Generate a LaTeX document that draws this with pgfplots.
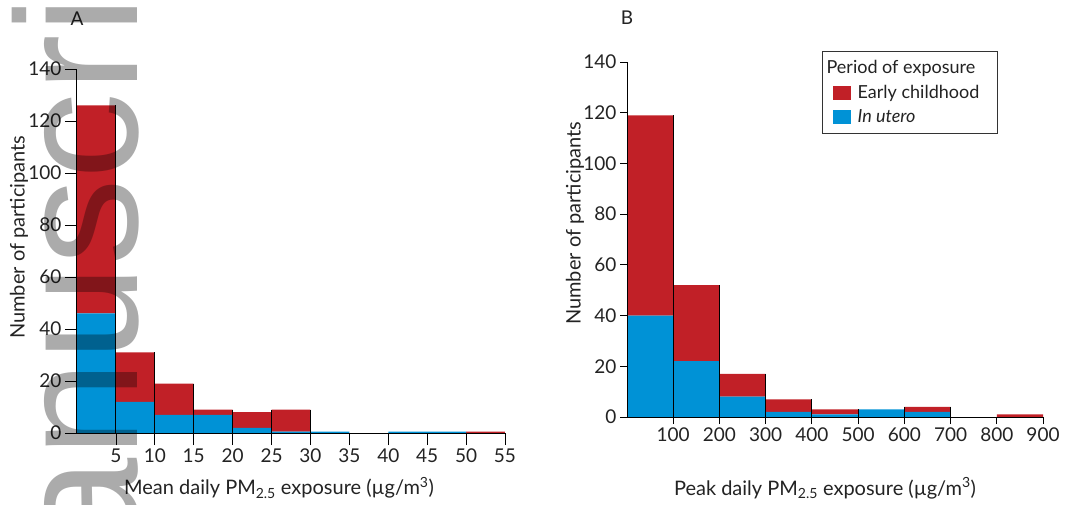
\documentclass[border=0pt]{standalone}
\usepackage{fontspec}
\setmainfont{Lato}
\newfontfamily\wmfont{Liberation Sans}
\usepackage{pgfplots}
\pgfplotsset{compat=1.18}
\definecolor{ecred}{RGB}{193,32,39}
\definecolor{iublue}{RGB}{0,146,214}
\definecolor{txt}{RGB}{35,35,35}
\pgfplotsset{
  histo/.style={
    scale only axis,
    axis lines=left,
    axis line style={-, black, line width=1pt},
    axis on top,
    ymin=0, ymax=140,
    ytick={0,20,...,140},
    tick align=outside,
    tick style={black, line width=0.8pt},
    /pgf/number format/assume math mode=true,
    tick label style={font=\fontsize{19}{22}\selectfont, text=txt},
    label style={font=\fontsize{20}{22}\selectfont, text=txt},
    title style={font=\fontsize{19}{22}\selectfont, text=txt},
    clip=false,
  },
  edges/.style={
    scale only axis, hide axis, ymin=0, ymax=140, clip=false,
  },
}
\begin{document}
\begin{tikzpicture}
\useasboundingbox (0pt,0pt) rectangle (1065pt,504pt);
% ---------------- Panel A ----------------
\begin{axis}[histo, ybar stacked, bar width=5,
  at={(77pt,71pt)}, anchor=south west, width=428pt, height=364pt,
  xmin=0, xmax=55, xtick={5,10,...,55},
  major tick length=12pt,
  title={A}, title style={at={(axis description cs:0,1.121)}, anchor=center},
  xlabel={Mean daily PM\textsubscript{2.5} exposure (µg/m\textsuperscript{3})},
  xlabel style={at={(axis description cs:0.472,-0.151)}, anchor=center},
  ylabel={Number of participants},
  ylabel style={at={(axis description cs:-0.1355,0.538)}, anchor=center, rotate=0},
]
% In utero
\addplot[fill=iublue, draw=none] coordinates {
 (2.5,46) (7.5,12) (12.5,7) (17.5,7) (22.5,2) (27.5,0.5)
 (32.5,0.5) (37.5,0) (42.5,0.5) (47.5,0.5) (52.5,0)};
% Early childhood
\addplot[fill=ecred, draw=none] coordinates {
 (2.5,80) (7.5,19) (12.5,12) (17.5,2) (22.5,6) (27.5,8.5)
 (32.5,0) (37.5,0) (42.5,0) (47.5,0) (52.5,0.5)};
\end{axis}
\begin{axis}[edges, at={(77pt,71pt)}, anchor=south west, width=428pt, height=364pt,
  xmin=0, xmax=55]
\addplot[ycomb, black, line width=1pt, mark=none] coordinates {
 (5,126) (10,31) (15,19) (20,9) (25,9) (30,9)};
\end{axis}
% ---------------- Panel B ----------------
\begin{axis}[histo, ybar stacked, bar width=100,
  at={(627pt,87pt)}, anchor=south west, width=416pt, height=355pt,
  xmin=0, xmax=900, xtick={100,200,...,900},
  major tick length=7pt,
  title={B}, title style={at={(axis description cs:0,1.107)}, anchor=center},
  xlabel={Peak daily PM\textsubscript{2.5} exposure (µg/m\textsuperscript{3})},
  xlabel style={at={(axis description cs:0.476,-0.2)}, anchor=center},
  ylabel={Number of participants},
  ylabel style={at={(axis description cs:-0.125,0.546)}, anchor=center, rotate=0},
  legend style={at={(axis description cs:0.469,1.031)}, anchor=north west,
    draw=black!80, line width=1pt, font=\fontsize{18}{21}\selectfont,
    text=txt, inner xsep=6pt, inner ysep=7pt, row sep=6pt},
  legend cell align=left,
]
\addlegendimage{empty legend}
\addlegendentry{\hspace*{-31pt}Period of exposure}
\addlegendimage{legend image code/.code={\path[draw=none,fill=none] (0pt,0pt) -- (27pt,0pt);\fill[ecred,draw=none] (4pt,-7pt) rectangle (22pt,7pt);}}
\addlegendentry{Early childhood\hspace*{10pt}}
\addlegendimage{legend image code/.code={\path[draw=none,fill=none] (0pt,0pt) -- (27pt,0pt);\fill[iublue,draw=none] (4pt,-7pt) rectangle (22pt,7pt);}}
\addlegendentry{\textit{In utero}}
% In utero
\addplot[fill=iublue, draw=none, forget plot] coordinates {
 (50,40) (150,22) (250,8) (350,2) (450,1) (550,3) (650,2) (750,0) (850,0)};
% Early childhood
\addplot[fill=ecred, draw=none, forget plot] coordinates {
 (50,79) (150,30) (250,9) (350,5) (450,2) (550,0) (650,2) (750,0) (850,1)};
\end{axis}
\begin{axis}[edges, at={(627pt,87pt)}, anchor=south west, width=416pt, height=355pt,
  xmin=0, xmax=900]
\addplot[ycomb, black, line width=1pt, mark=none] coordinates {
 (100,119) (200,52) (300,17) (400,7) (500,3) (600,4) (700,4)};
\end{axis}
% ---------------- watermark ----------------
\begin{scope}
\clip (0pt,0pt) rectangle (1065pt,504pt);
\node[rotate=90, anchor=base west, inner sep=0pt, text=black, opacity=0.33,
  font=\wmfont\fontsize{173}{173}\selectfont] at (137pt,-752pt) {Author Manuscript};
\end{scope}
\end{tikzpicture}
\end{document}
